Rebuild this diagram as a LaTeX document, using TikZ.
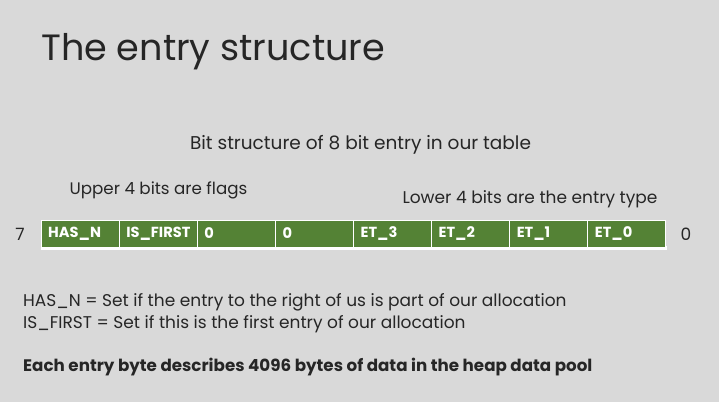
\documentclass[tikz,border=0pt]{standalone}
\usepackage{fontspec}
\setmainfont{Poppins}
\definecolor{slidebg}{RGB}{217,217,217}
\definecolor{ink}{RGB}{38,38,38}
\definecolor{cellgreen}{RGB}{84,130,53}
\begin{document}
\begin{tikzpicture}[x=1pt,y=-1pt,
  bitcell/.style={draw=white, line width=1pt, fill=cellgreen, minimum width=78pt, minimum height=27pt,
    inner sep=0pt, outer sep=0pt},
  celltext/.style={anchor=west, text=white, inner sep=0pt, font=\fontsize{14.6}{16}\selectfont\bfseries},
  label/.style={text=ink, inner sep=0pt, font=\fontsize{17}{20}\selectfont},
  note/.style={text=ink, inner sep=0pt, anchor=west, font=\fontsize{17}{20}\selectfont}]
  % slide background
  \fill[slidebg] (0,0) rectangle (719,402);
  \useasboundingbox (0,0) rectangle (719,402);
  % title
  \node[anchor=base west, text=ink, inner sep=0pt, font=\fontsize{36.6}{42}\selectfont] (title) at (41,60) {The entry structure};
  % headings
  \node[label, font=\fontsize{18.5}{22}\selectfont] (heading) at (360.5,145) {Bit structure of 8 bit entry in our table};
  \node[label, font=\fontsize{16.7}{20}\selectfont] (upper) at (158.5,190) {Upper 4 bits are flags};
  \node[label] (lower) at (530,199) {Lower 4 bits are the entry type};
  % bar shadow
  \fill[white] (41,246) rectangle (667,249.5);
  % the eight bit cells, bit 7 on the left
  \foreach \lbl [count=\i from 0] in {HAS\_N, IS\_FIRST, 0, 0, ET\_3, ET\_2, ET\_1, ET\_0} {
    \node[bitcell] (b\i) at ({41+78.1*\i+39},233.5) {};
    \node[celltext] (t\i) at ([xshift=7pt]b\i.west) {\lbl};
  }
  % bit numbers
  \node[label] (msb) at (20,234) {7};
  \node[label] (lsb) at (686,234) {0};
  % explanations
  \node[note] (n1) at (23,302) {HAS\_N = Set if the entry to the right of us is part of our allocation};
  \node[note] (n2) at (23,324) {IS\_FIRST = Set if this is the first entry of our allocation};
  \node[note, font=\fontsize{16.7}{20}\selectfont\bfseries] (n3) at (23,367) {Each entry byte describes 4096 bytes of data in the heap data pool};
\end{tikzpicture}
\end{document}
